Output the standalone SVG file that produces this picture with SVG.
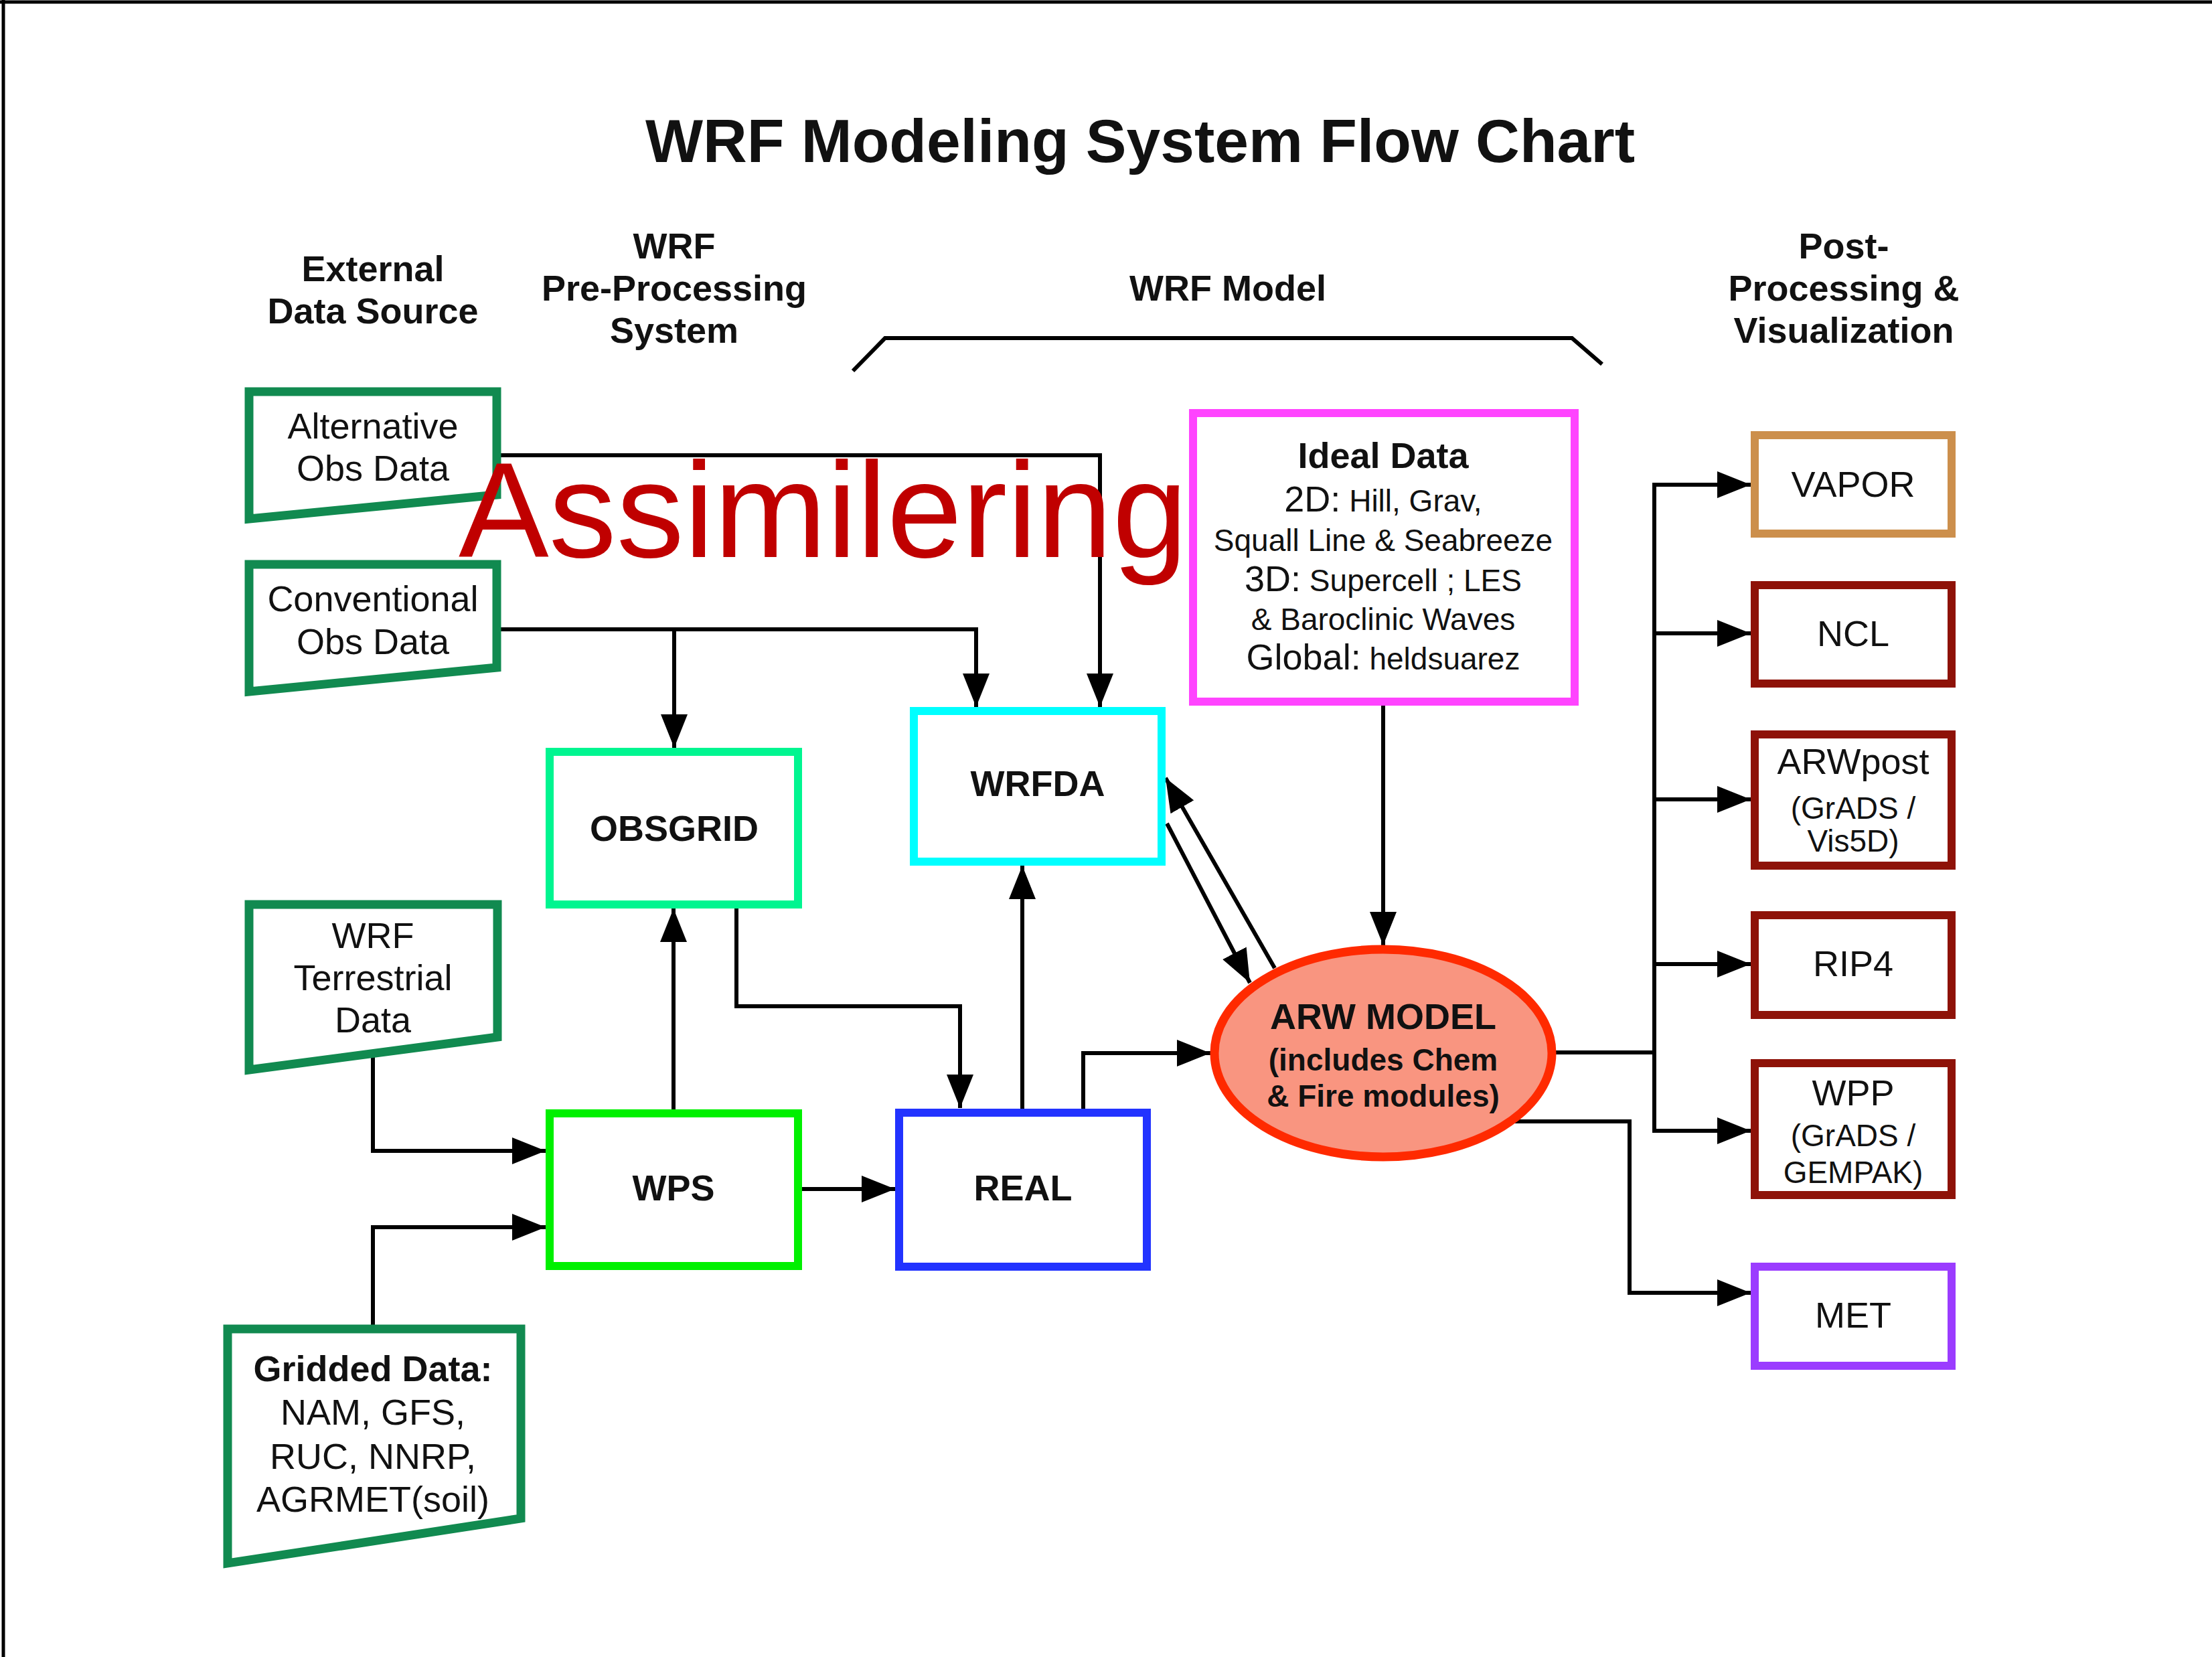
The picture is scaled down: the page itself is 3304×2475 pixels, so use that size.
<svg xmlns="http://www.w3.org/2000/svg" width="3304" height="2475" viewBox="0 0 3304 2475">
<style>
text{font-family:"Liberation Sans",Arial,Helvetica,sans-serif;fill:#111;text-anchor:middle}
.b{font-weight:bold}
.r54{font-size:54px}
.r46{font-size:46px}
.src{fill:#fff;stroke:#118a50;stroke-width:13;stroke-linejoin:miter}
.box{fill:#fff;stroke-width:12}
.con{fill:none;stroke:#000;stroke-width:6;stroke-linejoin:miter}
</style>
<defs>
<marker id="ah" markerUnits="userSpaceOnUse" markerWidth="50" markerHeight="40" refX="50" refY="20" orient="auto">
<path d="M0,0 L50,20 L0,40 Z" fill="#000"/>
</marker>
</defs>
<rect width="3304" height="2475" fill="#fff"/>
<line x1="0" y1="3" x2="3304" y2="3" stroke="#000" stroke-width="5"/>
<line x1="5" y1="0" x2="5" y2="2475" stroke="#000" stroke-width="5"/>

<g id="title">
<text class="b" x="1703" y="242" font-size="90" textLength="1478" lengthAdjust="spacingAndGlyphs">WRF Modeling System Flow Chart</text>
</g>
<g id="headers">
<text class="b r54" x="557" y="420">External</text>
<text class="b r54" x="557" y="483">Data Source</text>
<text class="b r54" x="1007" y="386">WRF</text>
<text class="b r54" x="1007" y="449">Pre-Processing</text>
<text class="b r54" x="1007" y="512">System</text>
<text class="b r54" x="1834" y="449">WRF Model</text>
<text class="b r54" x="2754" y="386">Post-</text>
<text class="b r54" x="2754" y="449">Processing &amp;</text>
<text class="b r54" x="2754" y="512">Visualization</text>
<path d="M1274,554 L1322,505 L2348,505 L2393,544" fill="none" stroke="#000" stroke-width="6"/>
</g>

<g id="connectors">
<path class="con" d="M742,680 H1643 V1056" marker-end="url(#ah)"/>
<path class="con" d="M742,940 H1458 V1056" marker-end="url(#ah)"/>
<path class="con" d="M1007,940 V1117" marker-end="url(#ah)"/>
<path class="con" d="M1006,1663 V1357" marker-end="url(#ah)"/>
<path class="con" d="M1100,1351 V1503 H1434 V1655" marker-end="url(#ah)"/>
<path class="con" d="M1527,1662 V1293" marker-end="url(#ah)"/>
<path class="con" d="M1618,1662 V1573 H1808" marker-end="url(#ah)"/>
<path class="con" d="M1192,1776 H1337" marker-end="url(#ah)"/>
<path class="con" d="M557,1574 V1719 H815" marker-end="url(#ah)"/>
<path class="con" d="M557,1985 V1833 H815" marker-end="url(#ah)"/>
<path class="con" d="M1904,1446 L1741,1162" marker-end="url(#ah)"/>
<path class="con" d="M1743,1230 L1867,1468" marker-end="url(#ah)"/>
<path class="con" d="M2066,1048 V1412" marker-end="url(#ah)"/>
<path class="con" d="M2318,1572 H2471"/>
<path class="con" d="M2471,721 V1692"/>
<path class="con" d="M2471,724 H2615" marker-end="url(#ah)"/>
<path class="con" d="M2471,946 H2615" marker-end="url(#ah)"/>
<path class="con" d="M2471,1194 H2615" marker-end="url(#ah)"/>
<path class="con" d="M2471,1440 H2615" marker-end="url(#ah)"/>
<path class="con" d="M2471,1689 H2615" marker-end="url(#ah)"/>
<path class="con" d="M2256,1675 H2434 V1931 H2615" marker-end="url(#ah)"/>
</g>

<g id="alt-obs">
<polygon class="src" points="372,585 742,585 742,739 372,775"/>
<text class="r54" x="557" y="655">Alternative</text>
<text class="r54" x="557" y="718">Obs Data</text>
</g>
<g id="conv-obs">
<polygon class="src" points="372,843 742,843 742,997 372,1033"/>
<text class="r54" x="557" y="913">Conventional</text>
<text class="r54" x="557" y="977">Obs Data</text>
</g>
<g id="terrestrial">
<polygon class="src" points="372,1351 743,1351 743,1549 372,1598"/>
<text class="r54" x="557" y="1416">WRF</text>
<text class="r54" x="557" y="1479">Terrestrial</text>
<text class="r54" x="557" y="1542">Data</text>
</g>
<g id="gridded">
<polygon class="src" points="340,1985 778,1985 778,2268 340,2335"/>
<text class="b r54" x="557" y="2063">Gridded Data:</text>
<text class="r54" x="557" y="2128">NAM, GFS,</text>
<text class="r54" x="557" y="2194">RUC, NNRP,</text>
<text class="r54" x="557" y="2258">AGRMET(soil)</text>
</g>
<g id="obsgrid">
<rect class="box" x="821" y="1123" width="371" height="228" stroke="#00f590"/>
<text class="b r54" x="1007" y="1256">OBSGRID</text>
</g>
<g id="wrfda">
<rect class="box" x="1365" y="1062" width="370" height="225" stroke="#00ffff"/>
<text class="b r54" x="1550" y="1189">WRFDA</text>
</g>
<g id="ideal">
<rect class="box" x="1782" y="617" width="570" height="431" stroke="#ff44ff"/>
<text class="b r54" x="2066" y="699">Ideal Data</text>
<text x="2066" y="764" class="r46"><tspan font-size="54">2D:</tspan> Hill, Grav,</text>
<text x="2066" y="823" class="r46">Squall Line &amp; Seabreeze</text>
<text x="2066" y="883" class="r46"><tspan font-size="54">3D:</tspan> Supercell ; LES</text>
<text x="2066" y="941" class="r46">&amp; Baroclinic Waves</text>
<text x="2066" y="1000" class="r46"><tspan font-size="54">Global:</tspan> heldsuarez</text>
</g>
<g id="wps">
<rect class="box" x="821" y="1663" width="371" height="228" stroke="#00f000"/>
<text class="b r54" x="1006" y="1793">WPS</text>
</g>
<g id="real">
<rect class="box" x="1343" y="1662" width="370" height="230" stroke="#2233ff"/>
<text class="b r54" x="1528" y="1793">REAL</text>
</g>
<g id="arw">
<ellipse cx="2066" cy="1573" rx="252" ry="155" fill="#f99580" stroke="#ff2a00" stroke-width="13"/>
<text class="b r54" x="2066" y="1537">ARW MODEL</text>
<text class="b r46" x="2066" y="1599">(includes Chem</text>
<text class="b r46" x="2066" y="1653">&amp; Fire modules)</text>
</g>
<g id="vapor">
<rect class="box" x="2621" y="650" width="294" height="147" stroke="#cc8f4c"/>
<text class="r54" x="2768" y="742">VAPOR</text>
</g>
<g id="ncl">
<rect class="box" x="2621" y="874" width="294" height="147" stroke="#8e1208"/>
<text class="r54" x="2768" y="965">NCL</text>
</g>
<g id="arwpost">
<rect class="box" x="2621" y="1097" width="294" height="196" stroke="#8e1208"/>
<text class="r54" x="2768" y="1156">ARWpost</text>
<text class="r46" x="2768" y="1223">(GrADS /</text>
<text class="r46" x="2768" y="1272">Vis5D)</text>
</g>
<g id="rip4">
<rect class="box" x="2621" y="1367" width="294" height="149" stroke="#8e1208"/>
<text class="r54" x="2768" y="1458">RIP4</text>
</g>
<g id="wpp">
<rect class="box" x="2621" y="1588" width="294" height="197" stroke="#8e1208"/>
<text class="r54" x="2768" y="1651">WPP</text>
<text class="r46" x="2768" y="1712">(GrADS /</text>
<text class="r46" x="2768" y="1767">GEMPAK)</text>
</g>
<g id="met">
<rect class="box" x="2621" y="1892" width="294" height="148" stroke="#9b3cff"/>
<text class="r54" x="2768" y="1983">MET</text>
</g>
<g id="overlay">
<text x="685" y="832" font-size="202" style="text-anchor:start;fill:#c00000">Assimilering</text>
</g>
</svg>
